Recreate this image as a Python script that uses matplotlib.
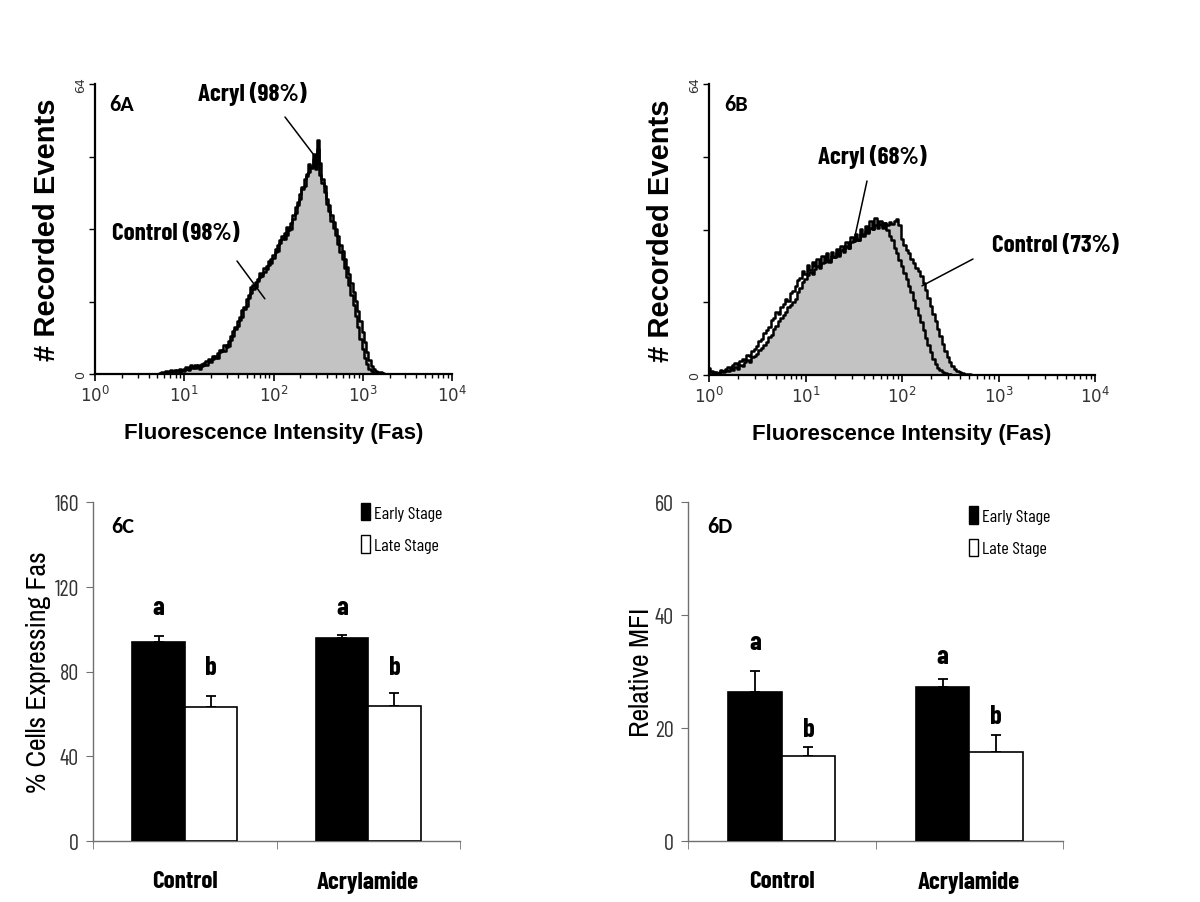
import numpy as np
import matplotlib
matplotlib.use("Agg")
import matplotlib.pyplot as plt
from matplotlib.patches import Patch
from matplotlib.ticker import LogLocator, NullFormatter, FixedLocator
from matplotlib.font_manager import FontProperties

NARROW_BOLD = dict(family=['Barlow Condensed', 'DejaVu Sans'], fontweight='bold')
BARLOW = ['Barlow Condensed', 'DejaVu Sans']
NARROW = ['Archivo Narrow', 'DejaVu Sans']
ARIAL = ['Liberation Sans', 'Arimo', 'DejaVu Sans']
CAL = ['Carlito', 'Lato', 'DejaVu Sans']

# ---------------- data ----------------
# Panel 6A: histogram counts, channels in log10 units from 0.70 step 0.025
a_start, a_step = 0.70, 0.025
a_control = [0, 0, 0.3, 0.2, 0.4, 0.3, 0.6, 0.4, 0.5, 0.8, 0.5, 0.9, 0.7, 1.2, 0.9, 1.6,
             1.3, 1.9, 1.5, 1.2, 1.8, 2.4, 2.0, 2.9, 2.6, 3.4, 3.9, 3.5, 4.8, 5.3, 5.0, 6.4,
             6.1, 7.6, 8.4, 9.9, 10.5, 12.0, 12.6, 14.3, 15.0, 16.8, 17.9, 19.6, 19.2, 20.5,
             21.3, 22.0, 22.6, 23.8, 24.1, 25.3, 25.6, 26.9, 28.4, 29.0, 29.8, 31.2, 30.6,
             32.3, 32.0, 34.1, 35.6, 37.4, 38.6, 40.8, 41.5, 43.7, 44.5, 46.0, 47.4, 45.2,
             49.6, 46.5, 43.0, 41.6, 38.6, 37.2, 35.1, 33.6, 32.0, 30.4, 28.5, 27.2, 25.4,
             23.6, 22.0, 20.1, 18.0, 16.2, 13.9, 11.6, 9.2, 7.0, 4.8, 3.0, 1.8, 1.0, 0.6,
             0.4, 0.4, 0.2, 0.1, 0, 0]
a_acryl = [0, 0.2, 0.4, 0.3, 0.6, 0.4, 0.8, 0.5, 0.9, 0.6, 1.1, 0.8, 1.0, 1.5, 1.2, 2.0,
           1.6, 1.3, 2.0, 1.6, 2.3, 2.0, 2.8, 3.4, 3.0, 3.9, 3.6, 4.6, 5.4, 5.1, 6.3, 6.0,
           7.2, 8.3, 9.6, 10.4, 11.8, 12.5, 14.2, 14.8, 16.5, 17.4, 19.3, 18.8, 20.4, 20.9,
           22.2, 21.6, 23.5, 23.1, 25.0, 24.6, 26.3, 27.5, 27.1, 29.6, 30.4, 29.9, 32.5,
           31.8, 33.4, 35.0, 36.8, 38.0, 39.8, 41.2, 43.0, 44.1, 46.3, 45.4, 48.6, 47.0,
           51.6, 44.0, 42.2, 40.1, 37.5, 36.0, 33.8, 32.3, 30.6, 28.8, 27.0, 25.4, 23.5,
           21.4, 19.6, 17.5, 15.2, 12.8, 10.3, 7.8, 5.5, 3.6, 2.2, 1.2, 0.7, 0.3, 0.2,
           0, 0, 0, 0, 0, 0]

# Panel 6B: histogram counts, channels in log10 units from 0.00 step 0.025
b_start, b_step = 0.0, 0.025
b_control = [0.8, 0.3, 0.6, 0.2, 0.5, 0.9, 0.6, 1.0, 0.8, 1.3, 1.1, 1.7, 1.4, 2.2, 1.9,
             2.8, 3.2, 2.9, 3.9, 4.2, 4.6, 5.4, 5.9, 6.6, 7.2, 8.3, 8.9, 10.1, 10.8, 11.9,
             12.5, 13.2, 13.8, 14.9, 15.4, 16.1, 16.7, 18.3, 19.2, 20.4, 21.1, 21.9, 22.6,
             22.2, 23.3, 24.0, 23.6, 24.6, 24.8, 25.6, 25.1, 26.2, 25.9, 26.8, 26.4, 27.5,
             27.7, 28.4, 28.0, 29.3, 29.5, 30.2, 29.8, 31.0, 31.0, 31.6, 31.2, 32.3, 32.1,
             32.9, 32.4, 33.1, 32.8, 33.4, 32.9, 33.6, 33.2, 33.9, 34.2, 33.0, 29.9, 28.7,
             27.5, 26.8, 25.5, 24.6, 23.5, 22.9, 21.8, 20.3, 18.6, 17.0, 15.2, 13.5, 11.8,
             10.1, 8.6, 6.9, 5.3, 4.0, 2.8, 1.9, 1.3, 0.9, 0.6, 0.4, 0.3, 0.2, 0.2, 0.1,
             0, 0, 0]
b_acryl = [1.5, 0.9, 0.4, 0.7, 0.5, 1.1, 0.8, 1.4, 1.7, 1.3, 2.1, 2.6, 2.3, 3.1, 3.6, 3.2,
           4.5, 4.1, 5.3, 5.8, 6.4, 7.5, 7.9, 9.2, 10.0, 10.6, 12.1, 12.5, 13.8, 13.4, 15.0,
           15.6, 16.7, 16.2, 18.0, 18.5, 19.6, 20.8, 21.3, 22.9, 22.3, 24.1, 23.2, 24.8,
           24.0, 25.6, 24.3, 26.1, 25.0, 26.9, 24.8, 27.0, 25.9, 27.8, 26.2, 28.4, 27.1,
           29.2, 27.9, 30.3, 29.4, 31.0, 29.8, 32.1, 30.6, 32.8, 31.5, 33.9, 32.2, 34.5,
           32.9, 33.8, 32.4, 33.5, 31.8, 30.5, 29.6, 28.0, 26.8, 25.4, 24.0, 22.5, 21.2,
           19.6, 18.2, 16.5, 14.8, 13.2, 11.6, 9.8, 8.1, 6.5, 5.0, 3.6, 2.4, 1.6, 1.0, 0.6,
           0.4, 0.2, 0.2, 0.1, 0, 0, 0]

hist_ticks = [1, 10, 100, 1000, 10000]
hist_ticklabels = ['$10^0$', '$10^1$', '$10^2$', '$10^3$', '$10^4$']

# Panels 6C / 6D: bar data
groups = ['Control', 'Acrylamide']
series = ['Early Stage', 'Late Stage']
c_early = [93.9, 95.8]
c_early_err = [2.8, 1.5]
c_late = [63.2, 63.7]
c_late_err = [5.2, 6.0]
c_letters_early = ['a', 'a']
c_letters_late = ['b', 'b']

d_early = [26.4, 27.2]
d_early_err = [3.7, 1.5]
d_late = [15.0, 15.8]
d_late_err = [1.6, 3.0]
d_letters_early = ['a', 'a']
d_letters_late = ['b', 'b']

W, H = 1200, 903
fig = plt.figure(figsize=(W / 100, H / 100), dpi=100)


def rect(l, t, r, b):
    return [l / W, 1 - b / H, (r - l) / W, (b - t) / H]


def fpx(x, y):
    return (x / W, 1 - y / H)


GRAY = '#c3c3c3'


def hist_panel(box, start, step, filled, outline, label, ann):
    ax = fig.add_axes(box)
    xf = 10 ** (start + step * np.arange(len(filled)))
    xo = 10 ** (start + step * np.arange(len(outline)))
    ax.fill_between(xf, filled, step='mid', color=GRAY, lw=0, zorder=1)
    ax.step(xf, filled, where='mid', color='black', lw=1.8, zorder=3)
    ax.step(xo, outline, where='mid', color='black', lw=1.8, zorder=3)
    ax.set_xscale('log')
    ax.set_xlim(1, 10000)
    ax.set_ylim(0, 64)
    for s in ['top', 'right']:
        ax.spines[s].set_visible(False)
    for s in ['left', 'bottom']:
        ax.spines[s].set_linewidth(1.6)
    ax.xaxis.set_major_locator(FixedLocator(hist_ticks))
    ax.set_xticklabels(hist_ticklabels, fontsize=12, color='#333333')
    ax.xaxis.set_minor_locator(LogLocator(base=10, subs=np.arange(2, 10)))
    ax.xaxis.set_minor_formatter(NullFormatter())
    ax.tick_params(axis='x', which='major', length=5, width=1.2, direction='out', pad=3)
    ax.tick_params(axis='x', which='minor', length=3, width=1.0, direction='out')
    ax.set_yticks([0, 16, 32, 48, 64])
    ax.set_yticklabels(['0', '', '', '', '64'], rotation=90, fontsize=9,
                       va='center', color='#333333')
    ax.tick_params(axis='y', length=4, width=1.0, direction='out', pad=2)
    ax.set_xlabel('Fluorescence Intensity (Fas)', family=ARIAL, fontweight='bold',
                  fontsize=16, labelpad=12)
    ax.set_ylabel('# Recorded Events', family=ARIAL, fontweight='bold', fontsize=21,
                  labelpad=9)
    ax.text(0.04, 0.93, label, transform=ax.transAxes, family=CAL, fontweight='bold',
            fontsize=16, ha='left', va='center')
    for txt, tpos, lstart, tip in ann:
        fig.text(*fpx(*tpos), txt, fontsize=18, ha='center', va='center', **NARROW_BOLD)
        ax.annotate('', xy=tip, xycoords='data', xytext=fpx(*lstart),
                    textcoords='figure fraction',
                    arrowprops=dict(arrowstyle='-', color='black', lw=1.1,
                                    shrinkA=0, shrinkB=0))
    return ax


hist_panel(rect(95, 85, 452, 375), a_start, a_step, a_control, a_acryl, '6A',
           [('Acryl (98%)', (252, 94), (285, 118), (292, 48)),
            ('Control (98%)', (176, 234), (237, 262), (80, 16.6))])
hist_panel(rect(709, 85, 1095, 376), b_start, b_step, b_control, b_acryl, '6B',
           [('Acryl (68%)', (872, 157), (867, 182), (32.6, 30.6)),
            ('Control (73%)', (1055, 246), (973, 260), (161, 19.6))])


def bar_panel(box, early, eerr, late, lerr, le, ll, ymax, yticks, ylabel, label,
              letter_early_y, letter_late_y, leg_anchor, ylab_x):
    ax = fig.add_axes(box)
    x = np.arange(len(groups))
    w = 0.285
    ax.bar(x - w / 2, early, width=w, color='black', edgecolor='black', lw=1.2,
           zorder=3, label=series[0])
    ax.bar(x + w / 2, late, width=w, color='white', edgecolor='black', lw=1.2,
           zorder=3, label=series[1])
    ax.errorbar(x - w / 2, early, yerr=[np.zeros(len(early)), eerr], fmt='none',
                ecolor='black', elinewidth=1.3, capsize=3.5, capthick=1.3, zorder=2)
    ax.errorbar(x + w / 2, late, yerr=[np.zeros(len(late)), lerr], fmt='none',
                ecolor='black', elinewidth=1.3, capsize=3.5, capthick=1.3, zorder=2)
    for i in range(len(groups)):
        ax.text(x[i] - w / 2, letter_early_y[i], le[i], fontsize=19, ha='center',
                va='center', **NARROW_BOLD)
        ax.text(x[i] + w / 2, letter_late_y[i], ll[i], fontsize=19, ha='center',
                va='center', **NARROW_BOLD)
    ax.set_xlim(-0.5, len(groups) - 0.5)
    ax.set_ylim(0, ymax)
    for s in ['top', 'right']:
        ax.spines[s].set_visible(False)
    for s in ['left', 'bottom']:
        ax.spines[s].set_color('#707070')
        ax.spines[s].set_linewidth(1.0)
    ax.set_xticks(x)
    ax.set_xticklabels(groups, fontsize=18, **NARROW_BOLD)
    ax.set_xticks(np.arange(len(groups) + 1) - 0.5, minor=True)
    ax.tick_params(axis='x', which='major', length=0, pad=21)
    ax.tick_params(axis='x', which='minor', length=6, color='#707070', direction='out')
    ax.set_yticks(yticks)
    ax.set_yticklabels([str(v) for v in yticks], family=BARLOW, fontsize=16,
                       color='#333333')
    ax.tick_params(axis='y', length=5, color='#707070', direction='out', pad=5)
    ax.set_ylabel(ylabel, family=NARROW, fontsize=20)
    ax.yaxis.set_label_coords(ylab_x, 0.5)
    ax.text(0.05, 0.93, label, transform=ax.transAxes, family=CAL, fontweight='bold',
            fontsize=16, ha='left', va='center')
    handles = [Patch(facecolor='black', edgecolor='black'),
               Patch(facecolor='white', edgecolor='black')]
    ax.legend(handles, series, loc='upper left', bbox_to_anchor=leg_anchor,
              frameon=False, handlelength=0.5, handleheight=1.1,
              handletextpad=0.25, labelspacing=0.8,
              prop=FontProperties(family=BARLOW, size=13))
    return ax


bar_panel(rect(93, 503, 460, 842), c_early, c_early_err, c_late, c_late_err,
          c_letters_early, c_letters_late, 160, [0, 40, 80, 120, 160],
          '% Cells Expressing Fas', '6C', [110.4, 110.4], [82.1, 82.1], (0.685, 1.045),
          -0.115)
bar_panel(rect(688, 503, 1063, 842), d_early, d_early_err, d_late, d_late_err,
          d_letters_early, d_letters_late, 60, [0, 20, 40, 60],
          'Relative MFI', '6D', [35.2, 32.7], [19.8, 22.1], (0.705, 1.035), -0.09)

fig.savefig('out.png', dpi=100, facecolor='white')
